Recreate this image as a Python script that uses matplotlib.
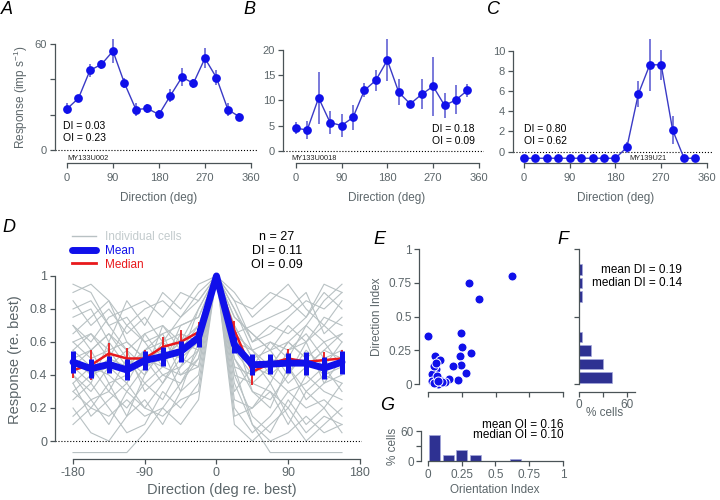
import matplotlib.pyplot as plt
from matplotlib.lines import Line2D

plt.rcParams["font.family"] = ["Liberation Sans", "DejaVu Sans"]
plt.rcParams["axes.unicode_minus"] = False
plt.rcParams["mathtext.fontset"] = "custom"
plt.rcParams["mathtext.rm"] = "Liberation Sans"

# ---- data ----
directions = [0, 22.5, 45, 67.5, 90, 112.5, 135, 157.5,
              180, 202.5, 225, 247.5, 270, 292.5, 315, 337.5]
rel_directions = [-180, -157.5, -135, -112.5, -90, -67.5, -45, -22.5,
                  0, 22.5, 45, 67.5, 90, 112.5, 135, 157.5]

A_resp = [23.3, 29.3, 45.1, 48.5, 56.0, 37.8, 22.9, 23.5,
          20.1, 30.8, 41.2, 37.8, 51.9, 41.0, 22.9, 18.8]
A_err = [3.1, 2.0, 3.8, 2.6, 7.0, 2.8, 3.8, 2.4,
         2.4, 3.5, 5.0, 2.5, 5.6, 4.2, 3.8, 2.0]

B_resp = [4.5, 4.1, 10.5, 5.6, 5.0, 6.6, 12.0, 14.0,
          18.0, 11.6, 9.3, 11.2, 12.8, 9.0, 10.1, 12.0]
B_err = [1.2, 1.8, 5.1, 2.2, 2.2, 2.4, 1.4, 2.1,
         4.2, 2.6, 0.5, 3.0, 5.9, 2.5, 2.9, 1.3]

C_resp = [-0.65, -0.65, -0.65, -0.65, -0.65, -0.65, -0.65, -0.65,
          -0.65, 0.43, 5.7, 8.6, 8.6, 2.15, -0.65, -0.65]
C_err = [0, 0, 0, 0, 0, 0, 0, 0,
         0, 0.55, 1.3, 2.6, 1.5, 1.4, 0, 0]

cells = [
    [0.95, 0.90, 0.70, 0.55, 0.45, 0.60, 0.75, 0.85, 1, 0.80, 0.55, 0.40, 0.50, 0.70, 0.85, 0.95],
    [0.30, 0.20, 0.35, 0.15, 0.40, 0.55, 0.30, 0.60, 1, 0.65, 0.30, 0.20, 0.45, 0.25, 0.35, 0.40],
    [0.55, 0.65, 0.50, 0.70, 0.60, 0.45, 0.70, 0.75, 1, 0.70, 0.50, 0.55, 0.40, 0.60, 0.70, 0.60],
    [0.40, 0.25, 0.10, 0.30, 0.20, 0.35, 0.50, 0.45, 1, 0.40, 0.15, 0.05, 0.25, 0.10, 0.20, 0.35],
    [0.75, 0.80, 0.60, 0.85, 0.70, 0.90, 0.80, 0.95, 1, 0.90, 0.75, 0.85, 0.95, 0.80, 0.70, 0.85],
    [0.20, 0.05, 0.00, 0.15, 0.25, 0.10, 0.30, 0.40, 1, 0.35, 0.10, 0.00, 0.05, 0.15, 0.05, 0.10],
    [0.60, 0.50, 0.55, 0.40, 0.65, 0.50, 0.60, 0.70, 1, 0.55, 0.45, 0.60, 0.55, 0.65, 0.50, 0.55],
    [0.45, 0.55, 0.65, 0.50, 0.40, 0.70, 0.55, 0.65, 1, 0.60, 0.55, 0.45, 0.60, 0.50, 0.40, 0.45],
    [0.85, 0.70, 0.80, 0.65, 0.75, 0.60, 0.50, 0.80, 1, 0.85, 0.60, 0.70, 0.65, 0.75, 0.90, 0.80],
    [0.35, 0.45, 0.30, 0.50, 0.35, 0.25, 0.45, 0.55, 1, 0.50, 0.35, 0.30, 0.20, 0.40, 0.30, 0.25],
    [0.50, 0.40, 0.45, 0.35, 0.55, 0.65, 0.40, 0.50, 1, 0.45, 0.40, 0.50, 0.35, 0.45, 0.55, 0.50],
    [0.65, 0.75, 0.85, 0.60, 0.50, 0.45, 0.65, 0.60, 1, 0.75, 0.65, 0.55, 0.70, 0.60, 0.75, 0.70],
    [0.25, 0.35, 0.20, 0.05, 0.10, 0.30, 0.20, 0.35, 1, 0.25, 0.20, 0.35, 0.15, 0.00, 0.10, 0.20],
    [0.70, 0.60, 0.75, 0.80, 0.85, 0.75, 0.90, 0.85, 1, 0.65, 0.70, 0.75, 0.80, 0.90, 0.65, 0.75],
    [0.40, 0.30, 0.45, 0.55, 0.30, 0.40, 0.35, 0.50, 1, 0.30, 0.45, 0.40, 0.30, 0.35, 0.45, 0.30],
    [0.55, 0.45, 0.40, 0.30, 0.45, 0.50, 0.60, 0.55, 1, 0.50, 0.30, 0.25, 0.40, 0.55, 0.45, 0.60],
    [0.30, 0.40, 0.50, 0.45, 0.55, 0.40, 0.45, 0.65, 1, 0.55, 0.40, 0.50, 0.45, 0.30, 0.40, 0.35],
    [0.80, 0.85, 0.70, 0.75, 0.60, 0.65, 0.70, 0.75, 1, 0.80, 0.60, 0.65, 0.75, 0.85, 0.80, 0.90],
    [0.15, 0.25, 0.30, 0.20, 0.35, 0.45, 0.40, 0.45, 1, 0.20, 0.05, 0.15, 0.30, 0.20, 0.25, 0.15],
    [0.60, 0.65, 0.55, 0.60, 0.50, 0.55, 0.50, 0.60, 1, 0.65, 0.55, 0.60, 0.50, 0.45, 0.55, 0.65],
    [0.45, 0.35, 0.60, 0.45, 0.50, 0.35, 0.55, 0.70, 1, 0.70, 0.50, 0.35, 0.55, 0.60, 0.35, 0.50],
    [0.90, 0.95, 0.85, 0.70, 0.80, 0.85, 0.75, 0.90, 1, 0.85, 0.80, 0.90, 0.85, 0.75, 0.95, 0.90],
    [-0.07, -0.07, -0.07, -0.07, 0.05, 0.20, 0.35, 0.55, 1, 0.45, 0.10, -0.07, -0.07, -0.07, -0.07, -0.07],
    [0.50, 0.55, 0.35, 0.40, 0.55, 0.60, 0.65, 0.60, 1, 0.40, 0.35, 0.45, 0.60, 0.50, 0.60, 0.45],
    [0.35, 0.15, 0.25, 0.35, 0.20, 0.15, 0.25, 0.30, 1, 0.15, 0.20, 0.30, 0.10, 0.30, 0.20, 0.05],
    [0.70, 0.55, 0.65, 0.55, 0.65, 0.70, 0.60, 0.80, 1, 0.75, 0.65, 0.55, 0.60, 0.70, 0.60, 0.65],
    [0.10, 0.20, 0.15, 0.25, 0.15, 0.20, 0.10, 0.25, 1, 0.10, 0.00, 0.10, 0.20, 0.05, 0.15, 0.10],
]

mean_resp = [0.478, 0.438, 0.464, 0.431, 0.488, 0.512, 0.542, 0.627,
             1.0, 0.583, 0.462, 0.466, 0.472, 0.472, 0.442, 0.478]
mean_err = [0.065, 0.057, 0.05, 0.063, 0.055, 0.06, 0.065, 0.055,
            0.0, 0.05, 0.063, 0.063, 0.062, 0.07, 0.065, 0.07]
median_resp = [0.43, 0.46, 0.53, 0.50, 0.50, 0.57, 0.60, 0.66,
               1.0, 0.67, 0.42, 0.47, 0.50, 0.48, 0.49, 0.50]
median_err = [0.05, 0.09, 0.065, 0.065, 0.05, 0.06, 0.07, 0.06,
              0.0, 0.06, 0.08, 0.05, 0.06, 0.05, 0.05, 0.05]

E_oi = [0.0, 0.622, 0.301, 0.375, 0.247, 0.252, 0.316, 0.240, 0.242,
        0.185, 0.284, 0.220, 0.156, 0.123, 0.091, 0.074, 0.049, 0.086,
        0.062, 0.027, 0.032, 0.047, 0.057, 0.042, 0.067, 0.100, 0.072]
E_di = [0.358, 0.802, 0.750, 0.632, 0.380, 0.272, 0.232, 0.205, 0.138,
        0.136, 0.079, 0.027, 0.040, 0.015, 0.032, 0.000, 0.205, 0.175,
        0.114, 0.077, 0.025, 0.136, 0.156, 0.010, 0.057, 0.012, 0.020]

DI_bins = [0.05, 0.15, 0.25, 0.35, 0.45, 0.55, 0.65, 0.75, 0.85]
DI_pct = [40.7, 29.6, 14.8, 3.7, 0, 0, 3.7, 3.7, 3.7]
OI_bins = [0.05, 0.15, 0.25, 0.35, 0.45, 0.55, 0.65]
OI_pct = [51.9, 11.1, 22.2, 11.1, 0, 0, 3.7]

# ---- styling ----
GRAY_TXT = "#5c666a"
SPINE = "#4a5357"
BLUE = "#1010ea"
LINE_BLUE = "#3a3ac6"
ERR_BLUE = "#6262d4"
CELL_GRAY = "#b8c1c3"
RED = "#e8191c"
BAR = "#2e3192"

W, H = 720, 500
fig = plt.figure(figsize=(7.2, 5), dpi=100)


def box(l, t, r, b):
    return fig.add_axes([l / W, 1 - b / H, (r - l) / W, (b - t) / H])


def ftext(x, y, s, **kw):
    kw.setdefault("va", "center")
    fig.text(x / W, 1 - y / H, s, **kw)


def style(ax, xpad=4, ypad=2.2, size=8):
    for s in ["top", "right"]:
        ax.spines[s].set_visible(False)
    for s in ["left", "bottom"]:
        ax.spines[s].set_color(SPINE)
        ax.spines[s].set_linewidth(0.9)
    ax.tick_params(direction="out", length=3.5, width=0.9, color=SPINE,
                   labelcolor=GRAY_TXT, labelsize=size)
    ax.tick_params(axis="x", pad=xpad)
    ax.tick_params(axis="y", pad=ypad)


def tuning(ax, resp, err, ylim, yticks, ylabels):
    ax.errorbar(directions, resp, yerr=err, fmt="none", ecolor=ERR_BLUE,
                elinewidth=1.2, capsize=0, zorder=2)
    ax.plot(directions, resp, "-", color=LINE_BLUE, lw=1, zorder=3)
    ax.plot(directions, resp, "o", ms=6.3, color=BLUE, mec="none", zorder=4)
    ax.axhline(0, color="k", ls=":", lw=0.8, zorder=1)
    ax.set_xlim(-23.5, 372)
    ax.set_ylim(*ylim)
    ax.set_xticks([0, 90, 180, 270, 360])
    ax.set_yticks(yticks)
    ax.set_yticklabels(ylabels)
    ax.spines["left"].set_bounds(yticks[0], yticks[-1])
    ax.spines["bottom"].set_bounds(0, 360)
    style(ax)


# A
axA = box(55, 35, 257, 163)
tuning(axA, A_resp, A_err, (-7.36, 65.1), [0, 20, 40, 60], ["0", "", "", "60"])
axA.text(0, 0.037, "MY133U002", transform=axA.get_xaxis_transform(),
         fontsize=5.3, color="#222222", va="center")
ftext(63, 126, "DI = 0.03", fontsize=7.5)
ftext(63, 138, "OI = 0.23", fontsize=7.5)

# B
axB = box(283, 35, 484, 163)
tuning(axB, B_resp, B_err, (-2.45, 23.0), [0, 5, 10, 15, 20],
       ["0", "5", "10", "15", "20"])
axB.set_xlim(-25, 370)
axB.text(-9, 0.037, "MY133U0018", transform=axB.get_xaxis_transform(),
         fontsize=5.3, color="#222222", va="center")
ftext(475, 128.5, "DI = 0.18", fontsize=7.5, ha="right")
ftext(475, 140.5, "OI = 0.09", fontsize=7.5, ha="right")

# C
axC = box(513, 35, 712, 163)
tuning(axC, C_resp, C_err, (-1.12, 11.55), [0, 2, 4, 6, 8, 10],
       ["0", "2", "4", "6", "8", "10"])
axC.set_xlim(-21.6, 370)
axC.text(207, 0.037, "MY139U21", transform=axC.get_xaxis_transform(),
         fontsize=5.3, color="#222222", va="center")
ftext(524, 128.5, "DI = 0.80", fontsize=7.5)
ftext(524, 141.5, "OI = 0.62", fontsize=7.5)

ftext(21, 97, "Response (imp s$^{-1}$)", fontsize=8.5, color=GRAY_TXT,
      rotation=90, ha="center")
for xc in [159, 387, 616]:
    ftext(xc, 198, "Direction (deg)", fontsize=8.5, color=GRAY_TXT, ha="center")

# D
axD = box(55, 272, 362, 459)
for c in cells:
    axD.plot(rel_directions, c, color=CELL_GRAY, lw=0.8, zorder=1)
axD.errorbar(rel_directions, median_resp, yerr=median_err, color=RED, lw=1.8,
             elinewidth=1.3, capsize=0, zorder=3)
axD.errorbar(rel_directions, mean_resp, yerr=mean_err, color=BLUE, lw=5,
             elinewidth=3.6, capsize=0, zorder=4, solid_capstyle="round")
axD.axhline(0, color="k", ls=":", lw=0.8, zorder=2)
axD.set_xlim(-202.6, 182.6)
axD.set_ylim(-0.109, 1.024)
axD.set_xticks([-180, -90, 0, 90, 180])
axD.set_yticks([0, 0.2, 0.4, 0.6, 0.8, 1])
axD.set_yticklabels(["0", "0.2", "0.4", "0.6", "0.8", "1"])
axD.spines["left"].set_bounds(0, 1)
axD.spines["bottom"].set_bounds(-180, 180)
style(axD, xpad=2.6, ypad=2.2, size=9)

handles = [Line2D([], [], color=CELL_GRAY, lw=1),
           Line2D([], [], color=BLUE, lw=5, solid_capstyle="round"),
           Line2D([], [], color=RED, lw=2)]
axD.legend(handles, ["Individual cells", "Mean", "Median"], loc="upper left",
           bbox_to_anchor=(72 / W, 1 - 231 / H), bbox_transform=fig.transFigure,
           frameon=False, fontsize=8.5, handlelength=2.0, handletextpad=0.8,
           labelspacing=0.15, borderpad=0, borderaxespad=0,
           labelcolor=["#c3cbcd", BLUE, RED])

ftext(277, 237, "n = 27", fontsize=9, ha="center")
ftext(277, 251, "DI = 0.11", fontsize=9, ha="center")
ftext(277, 265, "OI = 0.09", fontsize=9, ha="center")
ftext(15, 360, "Response (re. best)", fontsize=10.5, color=GRAY_TXT,
      rotation=90, ha="center")
ftext(222, 490, "Direction (deg re. best)", fontsize=10.5, color=GRAY_TXT,
      ha="center")

# E
axE = box(419, 247, 565, 392)
axE.scatter(E_oi, E_di, s=42, color=BLUE, edgecolors="white", linewidths=0.7,
            zorder=3, clip_on=False)
axE.set_xlim(-0.067, 1.015)
axE.set_ylim(-0.059, 1.015)
axE.set_xticks([0, 0.25, 0.5, 0.75, 1])
axE.set_yticks([0, 0.25, 0.5, 0.75, 1])
axE.set_yticklabels(["0", "0.25", "0.5", "0.75", "1"])
axE.spines["left"].set_bounds(0, 1)
axE.spines["bottom"].set_bounds(0, 1)
style(axE, ypad=1.7, size=8.5)
axE.tick_params(axis="x", labelbottom=False)
ftext(377, 317, "Direction Index", fontsize=8.5, color=GRAY_TXT,
      rotation=90, ha="center")

# F
axF = box(579, 247, 637, 392)
axF.barh(DI_bins, DI_pct, height=0.078, color=BAR, edgecolor="#a3a8dc", lw=0.5)
axF.set_xlim(0, 71.9)
axF.set_ylim(-0.059, 1.015)
axF.set_xticks([0, 30, 60])
axF.set_xticklabels(["0", "", "60"])
axF.set_yticks([0, 0.5, 1])
axF.set_yticklabels([])
axF.spines["left"].set_bounds(0, 1)
axF.spines["bottom"].set_bounds(0, 70)
style(axF, xpad=1.2, size=8.5)
ftext(682, 270, "mean DI = 0.19", fontsize=8.5, ha="right")
ftext(682, 283.5, "median DI = 0.14", fontsize=8.5, ha="right")
ftext(605, 413, "% cells", fontsize=8.5, color=GRAY_TXT, ha="center")

# G
axG = box(421, 429, 565, 461)
axG.bar(OI_bins, OI_pct, width=0.08, color=BAR, edgecolor="#a3a8dc", lw=0.5)
axG.set_xlim(-0.052, 1.015)
axG.set_ylim(0, 64)
axG.set_xticks([0, 0.25, 0.5, 0.75, 1])
axG.set_xticklabels(["0", "0.25", "0.5", "0.75", "1"])
axG.set_yticks([0, 30, 60])
axG.set_yticklabels(["0", "", "60"])
axG.spines["left"].set_bounds(0, 60)
axG.spines["bottom"].set_bounds(0, 1)
style(axG, xpad=2, ypad=1.7, size=8.5)
ftext(564, 424.5, "mean OI = 0.16", fontsize=8.5, ha="right")
ftext(564, 435.5, "median OI = 0.10", fontsize=8.5, ha="right")
ftext(393, 446, "% cells", fontsize=8.5, color=GRAY_TXT, rotation=90, ha="center")
ftext(495, 490, "Orientation Index", fontsize=8.5, color=GRAY_TXT, ha="center")

# panel letters
for lab, x, y in [("A", 1, 10), ("B", 243, 10), ("C", 487, 10), ("D", 2, 228),
                  ("E", 373, 240), ("F", 557, 240), ("G", 380, 406)]:
    ftext(x, y, lab, fontsize=13, style="italic")

fig.savefig("out.png", dpi=100)
